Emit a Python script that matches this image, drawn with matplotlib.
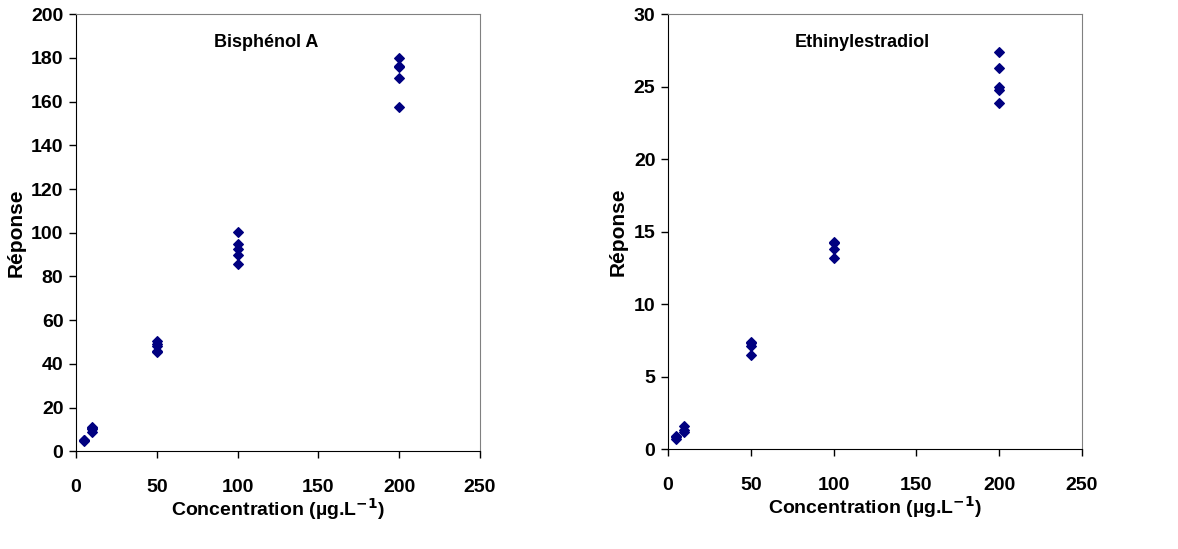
import matplotlib.pyplot as plt

plt.rcParams['font.family'] = ['Liberation Sans', 'DejaVu Sans']
plt.rcParams['font.weight'] = 'bold'

# Bisphénol A
bpa_x = [5, 5, 5, 10, 10, 10, 10, 50, 50, 50, 50, 50, 100, 100, 100, 100, 100, 200, 200, 200, 200, 200]
bpa_y = [5.0, 5.3, 4.8, 9.0, 10.0, 11.0, 10.5, 46.0, 45.5, 49.0, 50.5, 48.0,
         100.5, 95.0, 92.5, 90.0, 85.5, 180.0, 176.5, 176.0, 171.0, 157.5]

# Ethinylestradiol
ee2_x = [5, 5, 5, 10, 10, 10, 50, 50, 50, 50, 100, 100, 100, 100, 200, 200, 200, 200, 200]
ee2_y = [0.7, 0.8, 0.9, 1.6, 1.3, 1.2, 7.3, 7.1, 6.5, 7.4, 14.3, 14.2, 13.8, 13.2,
         27.4, 26.3, 25.0, 24.8, 23.9]

panels = [
    (bpa_x, bpa_y, "Bisphénol A", 200, 20, [0.0645, 0.178, 0.343, 0.796]),
    (ee2_x, ee2_y, "Ethinylestradiol", 30, 5, [0.567, 0.182, 0.3515, 0.792]),
]

fig = plt.figure(figsize=(11.78, 5.49), dpi=100)

for xs, ys, name, ymax, ystep, rect in panels:
    ax = fig.add_axes(rect)
    ax.scatter(xs, ys, marker='D', s=24, color='#000080', zorder=3)
    ax.set_xlim(0, 250)
    ax.set_ylim(0, ymax)
    ax.set_xticks(range(0, 251, 50))
    ax.set_yticks(range(0, ymax + 1, ystep))
    ax.tick_params(axis='x', direction='out', length=5, width=1, pad=15, labelsize=14)
    ax.tick_params(axis='y', direction='out', length=5, width=1, pad=4, labelsize=14)
    for lab in ax.get_xticklabels() + ax.get_yticklabels():
        lab.set_fontweight('bold')
    ax.spines['left'].set_color('black')
    ax.spines['bottom'].set_color('black')
    ax.spines['top'].set_color('#808080')
    ax.spines['right'].set_color('#808080')
    ax.set_xlabel("Concentration (µg.L$^{\\mathbf{-1}}$)", fontsize=14, fontweight='bold', labelpad=0)
    ax.set_ylabel("Réponse", fontsize=15, fontweight='bold', labelpad=4)
    ax.text(0.47, 0.935, name, transform=ax.transAxes, ha='center', va='center',
            fontsize=13, fontweight='bold')

fig.savefig("out.png", dpi=100)
